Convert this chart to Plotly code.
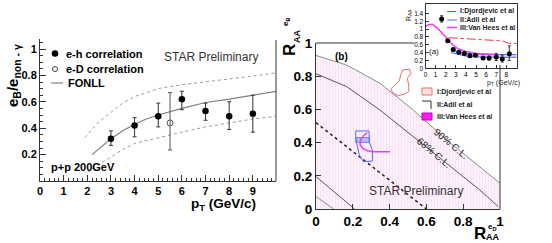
import plotly.graph_objects as go

W, H = 552, 243
FONT = "Liberation Sans, Arial, Helvetica, sans-serif"

# ---------------- left panel data (e_B / e_non-photonic vs pT) ----------------
pt_eh = [3, 4, 5, 6, 7, 8, 9]
ratio_eh = [0.32, 0.42, 0.49, 0.62, 0.53, 0.49, 0.51]
eh_hi = [0.38, 0.48, 0.59, 0.68, 0.59, 0.60, 0.65]
eh_lo = [0.27, 0.335, 0.41, 0.54, 0.46, 0.39, 0.37]
pt_eD = [5.5]
ratio_eD = [0.44]
eD_hi = [0.67]
eD_lo = [0.235]
fonll_pt = [2.2, 2.6, 3.0, 3.5, 4.0, 4.5, 5.0, 6.0, 7.0, 8.0, 9.0, 10.0]
fonll_mid = [0.20, 0.26, 0.32, 0.38, 0.43, 0.47, 0.50, 0.55, 0.595, 0.62, 0.65, 0.68]
fonll_up_pt = [1.9, 2.5, 3.0, 3.5, 4.0, 5.0, 6.0, 7.0, 8.0, 9.0, 10.0]
fonll_up = [0.33, 0.45, 0.52, 0.59, 0.64, 0.70, 0.73, 0.75, 0.77, 0.795, 0.82]
fonll_lo_pt = [2.0, 2.5, 3.0, 3.5, 4.0, 5.0, 6.0, 7.0, 8.0, 9.0, 10.0]
fonll_lo = [0.065, 0.13, 0.18, 0.24, 0.285, 0.33, 0.37, 0.41, 0.44, 0.47, 0.49]

# ---------------- right panel data (R_AA^eB vs R_AA^eD) ----------------
cl90_x = [0.0, 0.167, 0.348, 0.529, 0.71, 0.891, 1.0]
cl90_y = [0.925, 0.867, 0.757, 0.596, 0.416, 0.255, 0.155]
cl68_x = [0.0, 0.167, 0.348, 0.529, 0.71, 0.891, 0.99]
cl68_y = [0.815, 0.737, 0.596, 0.436, 0.275, 0.114, 0.015]
diag_x = [0.0, 0.6]
diag_y = [0.52, 0.0]
cl68lo_x = [0.0, 0.21]
cl68lo_y = [0.195, 0.0]
cl90lo_x = [0.0, 0.095]
cl90lo_y = [0.075, 0.0]
djord_x = [0.471, 0.507, 0.516, 0.496, 0.504, 0.504, 0.478, 0.447, 0.420, 0.406, 0.429, 0.453, 0.460, 0.471]
djord_y = [0.837, 0.843, 0.817, 0.787, 0.747, 0.707, 0.691, 0.683, 0.697, 0.723, 0.747, 0.771, 0.807, 0.837]
adil_x = [0.216, 0.288, 0.290, 0.306, 0.308, 0.257, 0.235, 0.221, 0.216, 0.216]
adil_y = [0.470, 0.470, 0.402, 0.355, 0.289, 0.285, 0.325, 0.386, 0.426, 0.470]
adil_band_x = [0.216, 0.290, 0.290, 0.216, 0.216]
adil_band_y = [0.430, 0.430, 0.402, 0.402, 0.430]
vh_x = [0.279, 0.257, 0.243, 0.239, 0.252, 0.279, 0.311, 0.402]
vh_y = [0.460, 0.440, 0.416, 0.390, 0.366, 0.351, 0.345, 0.345]

# ---------------- inset data (R_AA vs pT) ----------------
raa_pt = [1.6, 2.2, 2.75, 3.3, 3.85, 4.4, 4.95, 5.7, 6.3, 7.0, 7.6, 8.3]
raa = [1.26, 0.70, 0.48, 0.41, 0.38, 0.32, 0.33, 0.26, 0.26, 0.29, 0.24, 0.37]
raa_eup = [0.08, 0.04, 0.03, 0.03, 0.03, 0.03, 0.03, 0.04, 0.05, 0.09, 0.10, 0.20]
raa_edn = [0.08, 0.04, 0.03, 0.03, 0.03, 0.03, 0.03, 0.04, 0.05, 0.09, 0.08, 0.17]
dj_pt = [2.3, 3.0, 4.0, 5.0, 6.0, 7.0, 7.6, 8.2, 9.0]
dj_raa = [0.78, 0.77, 0.76, 0.75, 0.74, 0.72, 0.70, 0.64, 0.63]
adil_pt = [2.5, 3.0, 4.0, 5.0, 6.0, 7.0, 8.0, 9.0]
adil_lo = [0.40, 0.37, 0.31, 0.29, 0.28, 0.28, 0.28, 0.28]
adil_hi = [0.47, 0.44, 0.38, 0.36, 0.35, 0.35, 0.35, 0.35]
vh_pt = [0.0, 0.3, 0.7, 1.2, 1.7, 2.2, 2.7, 3.2, 4.0, 5.0, 6.0, 7.2]
vh_raa = [1.06, 1.12, 1.12, 1.02, 0.88, 0.74, 0.60, 0.50, 0.43, 0.38, 0.36, 0.35]


def fx(p):
    return p / W


def fy(p):
    return 1 - p / H


fig = go.Figure()

# ---- left panel ----
L = dict(xaxis="x", yaxis="y", showlegend=False, hoverinfo="skip")
fig.add_trace(go.Scatter(x=fonll_up_pt, y=fonll_up, mode="lines",
                         line=dict(color="#999999", width=1, dash="dot"), **L))
fig.add_trace(go.Scatter(x=fonll_lo_pt, y=fonll_lo, mode="lines",
                         line=dict(color="#999999", width=1, dash="dot"), **L))
fig.add_trace(go.Scatter(x=fonll_pt, y=fonll_mid, mode="lines",
                         line=dict(color="#808080", width=1.2), **L))
fig.add_trace(go.Scatter(
    x=pt_eD, y=ratio_eD, mode="markers",
    marker=dict(symbol="circle-open", size=6, color="#555", line=dict(width=1)),
    error_y=dict(type="data", symmetric=False,
                 array=[h - v for h, v in zip(eD_hi, ratio_eD)],
                 arrayminus=[v - l for v, l in zip(ratio_eD, eD_lo)],
                 width=2, thickness=1, color="#555"), **L))
fig.add_trace(go.Scatter(
    x=pt_eh, y=ratio_eh, mode="markers",
    marker=dict(symbol="circle", size=6.5, color="black"),
    error_y=dict(type="data", symmetric=False,
                 array=[h - v for h, v in zip(eh_hi, ratio_eh)],
                 arrayminus=[v - l for v, l in zip(ratio_eh, eh_lo)],
                 width=2, thickness=1, color="#333"), **L))

# ---- right panel ----
R = dict(xaxis="x2", yaxis="y2", showlegend=False, hoverinfo="skip")
fig.add_trace(go.Scatter(x=cl90_x, y=cl90_y, mode="none", fill="tozeroy",
                         fillcolor="#fdf1fb",
                         fillpattern=dict(shape="|", fgcolor="#f7d2f0", bgcolor="#fdf1fb",
                                          size=3, solidity=0.3), **R))
fig.add_trace(go.Scatter(x=cl90_x, y=cl90_y, mode="lines", line=dict(color="#8a8a8a", width=1), **R))
fig.add_trace(go.Scatter(x=cl68_x, y=cl68_y, mode="lines", line=dict(color="#555", width=1), **R))
fig.add_trace(go.Scatter(x=cl68lo_x, y=cl68lo_y, mode="lines", line=dict(color="#555", width=1), **R))
fig.add_trace(go.Scatter(x=cl90lo_x, y=cl90lo_y, mode="lines", line=dict(color="#8a8a8a", width=1), **R))
fig.add_trace(go.Scatter(x=diag_x, y=diag_y, mode="lines", line=dict(color="#222", width=1.5, dash="dot"), **R))
fig.add_trace(go.Scatter(x=djord_x, y=djord_y, mode="lines", line=dict(color="#ee6a6a", width=1), **R))
fig.add_trace(go.Scatter(x=adil_band_x, y=adil_band_y, mode="lines", fill="toself",
                         fillcolor="rgba(110,130,235,0.45)", line=dict(color="#6a7cf0", width=1), **R))
fig.add_trace(go.Scatter(x=adil_x, y=adil_y, mode="lines", line=dict(color="#5a6cf0", width=1), **R))
fig.add_trace(go.Scatter(x=vh_x, y=vh_y, mode="lines", line=dict(color="#f03cf0", width=1.5), **R))

# ---- inset ----
I = dict(xaxis="x3", yaxis="y3", showlegend=False, hoverinfo="skip")
fig.add_trace(go.Scatter(x=adil_pt, y=adil_lo, mode="lines", line=dict(color="#5a6cf0", width=1), **I))
fig.add_trace(go.Scatter(x=adil_pt, y=adil_hi, mode="lines", fill="tonexty",
                         fillcolor="rgba(120,140,240,0.35)", line=dict(color="#5a6cf0", width=1), **I))
fig.add_trace(go.Scatter(x=dj_pt, y=dj_raa, mode="lines",
                         line=dict(color="#e83a3a", width=1, dash="dashdot"), **I))
fig.add_trace(go.Scatter(x=vh_pt, y=vh_raa, mode="lines", line=dict(color="#f03cf0", width=1.5), **I))
fig.add_trace(go.Scatter(
    x=raa_pt, y=raa, mode="markers", marker=dict(symbol="circle", size=5, color="black"),
    error_y=dict(type="data", symmetric=False, array=raa_eup, arrayminus=raa_edn,
                 width=1.5, thickness=1, color="#333"), **I))

# ---- overlay (pixel space) for legend symbols ----
O = dict(xaxis="x4", yaxis="y4", showlegend=False, hoverinfo="skip")
fig.add_trace(go.Scatter(x=[55], y=[53.5], mode="markers",
                         marker=dict(symbol="circle", size=6.5, color="black"), **O))
fig.add_trace(go.Scatter(x=[55], y=[69], mode="markers",
                         marker=dict(symbol="circle-open", size=5, color="#444", line=dict(width=1)), **O))

shapes = []


def seg(x0, y0, x1, y1, color="black", width=1, dash="solid"):
    shapes.append(dict(type="line", xref="paper", yref="paper",
                       x0=fx(x0), y0=fy(y0), x1=fx(x1), y1=fy(y1),
                       line=dict(color=color, width=width, dash=dash)))


def box(x0, y0, x1, y1, line, fill):
    shapes.append(dict(type="rect", xref="paper", yref="paper",
                       x0=fx(x0), y0=fy(y0), x1=fx(x1), y1=fy(y1),
                       line=dict(color=line, width=1), fillcolor=fill))


# frames
seg(276, 40, 276, 181, "#333")
seg(316, 43, 414, 43, "#333")
seg(500, 65, 500, 209, "#333")
# left legend FONLL sample
seg(51, 83, 63, 83, "#808080", 1.2)
# right legend
box(422, 88, 432, 95, "#ee6a6a", "#fde4e4")
seg(422, 101, 431, 101, "#333")
seg(431, 101, 431, 109, "#333")
box(422, 113, 432, 120, "#c000c0", "#ff1cf0")
# inset legend samples
seg(447, 11.5, 457, 11.5, "#e83a3a", 1, "dashdot")
seg(447, 20, 457, 20, "#5a6cf0", 1)
seg(447, 27.5, 457, 27.5, "#f03cf0", 1.5)

ann = []


def text(x, y, s, size, bold=False, color="black", xanchor="center", angle=0, yanchor="middle"):
    ann.append(dict(x=fx(x), y=fy(y), xref="paper", yref="paper", text=s, showarrow=False,
                    xanchor=xanchor, yanchor=yanchor, textangle=angle,
                    font=dict(family=FONT, size=size, color=color,
                              weight="bold" if bold else "normal")))


# left texts
text(64, 54, "e-h correlation", 11, True, xanchor="left")
text(64, 69, "e-D correlation", 11, True, xanchor="left")
text(66, 83, "FONLL", 11, True, xanchor="left")
text(211, 57, "STAR Preliminary", 12, False, "#333")
text(83, 167, "p+p 200GeV", 11, True)
text(223, 204, "p<sub>T</sub> (GeV/c)", 13.5, True)
text(13, 76, "e<sub>B</sub>/e<sub>non - γ</sub>", 15, True, angle=-90)
# right texts
text(341, 57, "(b)", 10, True)
text(416, 191, "STAR Preliminary", 12, False, "#333")
text(451, 143, "90% C.L.", 10, False, "#222", angle=40)
text(434, 152, "68% C.L.", 10, False, "#222", angle=40)
text(435, 91.5, "I:Djordjevic et al", 7, True, "#222", xanchor="left")
text(435, 104, "II:Adil et al", 7, True, "#222", xanchor="left")
text(435, 116.5, "III:Van Hees et al", 7, True, "#222", xanchor="left")
# right axis titles
text(480, 233, "R", 17, True)
text(493, 237, "AA", 9, True)
text(492, 227, "e<sub>D</sub>", 8, True)
text(290, 50, "R", 17, True, angle=-90)
text(297, 36, "AA", 9, True, angle=-90)
text(286, 22, "e<sub>B</sub>", 8, True, angle=-90)
# inset texts
text(458, 11.5, "I:Djordjevic et al", 7, True, "#222", xanchor="left")
text(458, 20, "II:Adil et al", 7, True, "#222", xanchor="left")
text(458, 27.5, "III:Van Hees et al", 7, True, "#222", xanchor="left")
text(434, 51, "(a)", 8, False, "#222")
text(503, 83, "p<sub>T</sub> (GeV/c)", 7, False, "#222")
text(409, 15, "R<sub>AA</sub>", 7, False, "#222", angle=-90)

axcommon = dict(showgrid=False, zeroline=False, showline=True, linecolor="#333", linewidth=1,
                ticks="inside", tickcolor="#333", automargin=False)

fig.update_layout(
    width=W, height=H, margin=dict(l=0, r=0, t=0, b=0, autoexpand=False),
    paper_bgcolor="white", plot_bgcolor="rgba(0,0,0,0)",
    showlegend=False, shapes=shapes, annotations=ann,
    xaxis=dict(domain=[fx(40), fx(276)], range=[0, 9.98], anchor="y",
               tickvals=list(range(10)), ticklen=6,
               minor=dict(ticks="inside", ticklen=3, dtick=0.2, tickcolor="#333"),
               tickfont=dict(family=FONT, size=11, color="black", weight="bold"), **axcommon),
    yaxis=dict(domain=[fy(181), fy(39)], range=[0, 1.076], anchor="x",
               tickvals=[0.2, 0.4, 0.6, 0.8, 1.0], ticktext=["0.2", "0.4", "0.6", "0.8", "1"],
               ticklen=6, minor=dict(ticks="inside", ticklen=3, dtick=0.05, tickcolor="#333"),
               tickfont=dict(family=FONT, size=11, color="black", weight="bold"), **axcommon),
    xaxis2=dict(domain=[fx(316), fx(500)], range=[0, 1], anchor="y2",
                tickvals=[0, 0.2, 0.4, 0.6, 0.8, 1.0], ticktext=["0", "0.2", "0.4", "0.6", "0.8", "1"],
                ticklen=5, tickfont=dict(family=FONT, size=13.5, color="black", weight="bold"), **axcommon),
    yaxis2=dict(domain=[fy(209), fy(43)], range=[0, 1], anchor="x2",
                tickvals=[0, 0.2, 0.4, 0.6, 0.8, 1.0], ticktext=["0", "0.2", "0.4", "0.6", "0.8", "1"],
                ticklen=5, tickfont=dict(family=FONT, size=13.5, color="black", weight="bold"), **axcommon),
    xaxis3=dict(domain=[fx(425.5), fx(517)], range=[0, 9.06], anchor="y3", mirror=True,
                tickvals=list(range(9)), ticklen=3,
                tickfont=dict(family=FONT, size=6.5, color="black"), **axcommon),
    yaxis3=dict(domain=[fy(68.3), fy(4)], range=[0, 1.64], anchor="x3", mirror=True,
                tickvals=[0, 0.2, 0.4, 0.6, 0.8, 1.0, 1.2, 1.4],
                ticktext=["0", "0.2", "0.4", "0.6", "0.8", "1", "1.2", "1.4"], ticklen=3,
                tickfont=dict(family=FONT, size=6.5, color="black"), **axcommon),
    xaxis4=dict(domain=[0, 1], range=[0, W], anchor="y4", visible=False, fixedrange=True),
    yaxis4=dict(domain=[0, 1], range=[H, 0], anchor="x4", visible=False, fixedrange=True),
)

fig.write_html("out.html", config={"displayModeBar": False},
               post_script="document.body.style.margin='0px';document.body.style.overflow='hidden';")
